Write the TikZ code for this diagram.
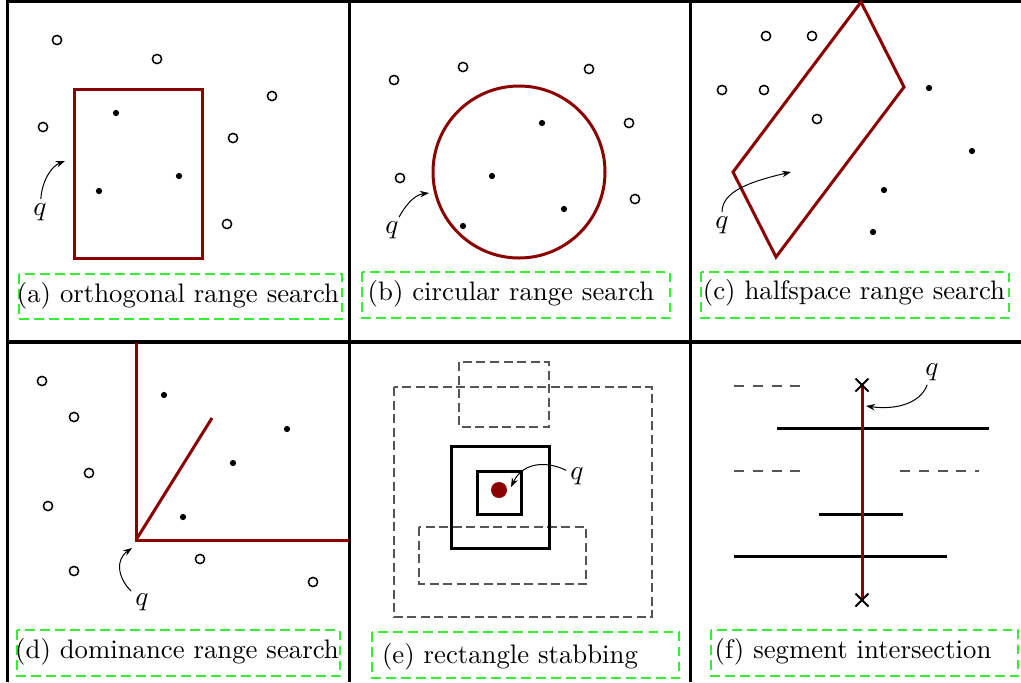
\documentclass[tikz,border=0pt]{standalone}
\usetikzlibrary{arrows.meta}
\definecolor{dred}{HTML}{8B0000}
\definecolor{capgreen}{HTML}{33EE33}
\definecolor{dgray}{HTML}{555555}
\begin{document}
\begin{tikzpicture}[x=0.4pt,y=-0.4pt,
 frame/.style={line width=1.25pt},
 hollow/.style={circle,draw,line width=0.6pt,inner sep=0pt,minimum size=3.7pt},
 dot/.style={circle,fill,inner sep=0pt,minimum size=2.5pt},
 region/.style={draw=dred,line width=1.2pt},
 capbox/.style={draw=capgreen,line width=0.5pt,dash pattern=on 3.8pt off 2.2pt},
 captext/.style={anchor=base,inner sep=0pt,font=\fontsize{10.7}{12}\selectfont},
 qlabel/.style={inner sep=1.5pt,font=\fontsize{10.7}{12}\selectfont},
 qarrow/.style={-{Stealth[length=3.6pt,width=2.6pt]},line width=0.4pt},
 rectdash/.style={draw=dgray,line width=0.5pt,dash pattern=on 3.6pt off 1.8pt},
 segdash/.style={draw=dgray,line width=0.5pt,dash pattern=on 4pt off 3.5pt},
 solidbox/.style={draw=black,line width=1.2pt},
 seg/.style={draw=black,line width=1.2pt},
 crossline/.style={draw=black,line width=0.8pt}]
\useasboundingbox (0,0) rectangle (1021,682);
% frame
\draw[frame] (7.5,682) -- (7.5,1.5) -- (1021,1.5);
\draw[frame] (349.5,1.5) -- (349.5,682);
\draw[frame] (690.5,1.5) -- (690.5,682);
\draw[frame] (7.5,342) -- (1021,342);

% ---------- (a)
\draw[region] (74,89) rectangle (202,258);
\foreach \p [count=\i] in {(57,40),(157,59),(272,96),(43,127),(233,138),(227,224)}
  \node[hollow] (ah\i) at \p {};
\foreach \p [count=\i] in {(116,113),(179,176),(99,191)}
  \node[dot] (ad\i) at \p {};
\node[qlabel] (qa) at (40,212) {$q$};
\coordinate (ta) at (65,161);
\draw[qarrow] (qa) .. controls (42,180) and (52,166) .. (ta);
\draw[capbox] (19,274) rectangle (342,319);
\node[captext] (ca) at (178,302) {(a) orthogonal range search};

% ---------- (b)
\draw[region] (519,172) circle[radius=34.4pt];
\foreach \p [count=\i] in {(394,80),(463,67),(589,69),(629,123),(400,178),(635,199)}
  \node[hollow] (bh\i) at \p {};
\foreach \p [count=\i] in {(542,123),(492,176),(564,209),(463,226)}
  \node[dot] (bd\i) at \p {};
\node[qlabel] (qb) at (392,230) {$q$};
\coordinate (tb) at (429,193);
\draw[qarrow] (qb) .. controls (404,208) and (413,195) .. (tb);
\draw[capbox] (362,272) rectangle (670,318);
\node[captext] (cb) at (511,300) {(b) circular range search};

% ---------- (c)
\draw[region] (861,2) -- (904,87) -- (776,257) -- (733,172) -- cycle;
\foreach \p [count=\i] in {(766,36),(812,36),(722,90),(764,90),(817,119)}
  \node[hollow] (ch\i) at \p {};
\foreach \p [count=\i] in {(929,88),(972,151),(884,190),(873,232)}
  \node[dot] (cd\i) at \p {};
\node[qlabel] (qc) at (722,225) {$q$};
\coordinate (tc) at (791,172);
\draw[qarrow] (qc) .. controls (722,192) and (748,182) .. (tc);
\draw[capbox] (701,272) rectangle (1009,318);
\node[captext] (cc) at (854,299) {(c) halfspace range search};

% ---------- (d)
\draw[region] (136,343) -- (136,540) -- (349,540);
\draw[region] (136,540) -- (212,418);
\foreach \p [count=\i] in {(42,381),(74,417),(89,473),(48,506),(74,571),(200,559),(313,582)}
  \node[hollow] (dh\i) at \p {};
\foreach \p [count=\i] in {(164,395),(287,429),(233,463),(183,517)}
  \node[dot] (dd\i) at \p {};
\node[qlabel] (qd) at (142,602) {$q$};
\coordinate (td) at (132,548);
\draw[qarrow] (qd) .. controls (118,578) and (115,560) .. (td);
\draw[capbox] (17,630) rectangle (340,676);
\node[captext] (cd) at (177,658) {(d) dominance range search};

% ---------- (e)
\draw[rectdash] (459,362) rectangle (549,427);
\draw[rectdash] (394,387) rectangle (652,617);
\draw[rectdash] (419,527) rectangle (586,584);
\draw[solidbox] (451,446) rectangle (549,548);
\draw[solidbox] (477,471) rectangle (521,514);
\node[circle,fill=dred,inner sep=0pt,minimum size=6.4pt] (qpt) at (499,490) {};
\node[qlabel] (qe) at (577,476) {$q$};
\coordinate (te) at (511,487);
\draw[qarrow] (qe) .. controls (550,462) and (524,460) .. (te);
\draw[capbox] (372,632) rectangle (679,678);
\node[captext] (ce) at (510,663) {(e) rectangle stabbing};

% ---------- (f)
\draw[segdash] (734,386) -- (808,386);
\draw[segdash] (734,471) -- (808,471);
\draw[segdash] (900,471) -- (979,471);
\draw[seg] (777,428) -- (989,428);
\draw[seg] (819,514) -- (903,514);
\draw[seg] (734,556) -- (947,556);
\coordinate (fa) at (862,385);
\coordinate (fb) at (862,600);
\draw[draw=dred,line width=1.2pt] (fa) -- (fb);
\draw[crossline] (855.5,378.5) -- (868.5,391.5) (855.5,391.5) -- (868.5,378.5);
\draw[crossline] (855.5,593.5) -- (868.5,606.5) (855.5,606.5) -- (868.5,593.5);
\node[qlabel] (qf) at (932,372) {$q$};
\coordinate (tf) at (866,406);
\draw[qarrow] (qf) .. controls (920,404) and (895,410) .. (tf);
\draw[capbox] (711,630) rectangle (1018,676);
\node[captext] (cf) at (853,658) {(f) segment intersection};
\end{tikzpicture}
\end{document}
